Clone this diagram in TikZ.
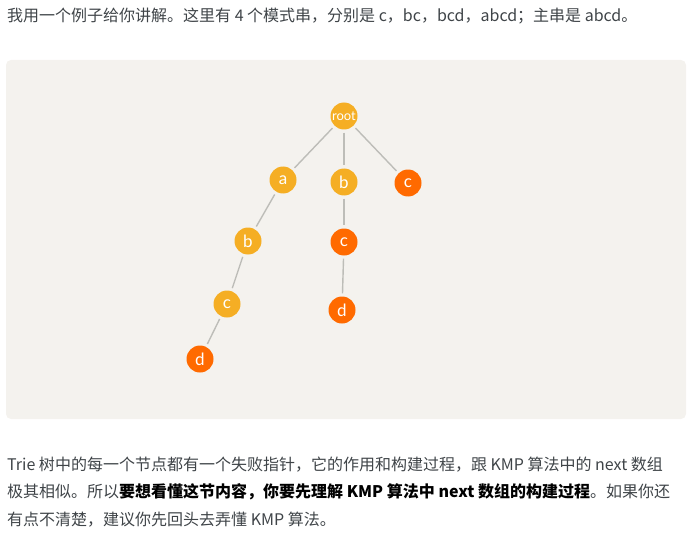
\documentclass[tikz,border=0pt]{standalone}
\usepackage{fontspec}
\setmainfont{Noto Sans CJK SC}
\newfontfamily\labelfont{Lato}
\definecolor{txt}{HTML}{3F4448}
\definecolor{panel}{HTML}{F4F2EE}
\definecolor{yel}{HTML}{F5AE24}
\definecolor{org}{HTML}{FF6A00}
\definecolor{edge}{HTML}{BDBDB8}
\tikzset{
  tnode/.style={circle,minimum size=27pt,inner sep=0pt,text=white,font=\labelfont\fontsize{17}{17}\selectfont},
  ynode/.style={tnode,fill=yel},
  onode/.style={tnode,fill=org},
  link/.style={draw=edge,line width=1.4pt,shorten >=3pt,shorten <=3pt},
  para/.style={anchor=west,inner sep=0pt,text=txt,font=\fontsize{16}{18}\selectfont}
}
\begin{document}
\begin{tikzpicture}[x=1pt,y=-1pt]
\useasboundingbox (0,0) rectangle (687,540);
\fill[panel,rounded corners=5pt] (6,60) rectangle (686,419);
\node[para] (t1) at (7,16) {我用一个例子给你讲解。这里有 4 个模式串，分别是 c，bc，bcd，abcd；主串是 abcd。};
\node[ynode,font=\labelfont\fontsize{13}{13}\selectfont] (root) at (344,116) {root};
\node[ynode] (a) at (283,180) {a};
\node[ynode] (b1) at (344,182) {b};
\node[onode] (c1) at (408,183) {c};
\node[ynode] (b2) at (248,241) {b};
\node[ynode] (c2) at (227,304) {c};
\node[onode] (d2) at (200,359) {d};
\node[onode] (c3) at (344,242) {c};
\node[onode] (d3) at (342,310) {d};
\draw[link] (root) -- (a);
\draw[link] (root) -- (b1);
\draw[link] (root) -- (c1);
\draw[link] (a) -- (b2);
\draw[link] (b2) -- (c2);
\draw[link] (c2) -- (d2);
\draw[link] (b1) -- (c3);
\draw[link] (c3) -- (d3);
\node[para] (l1) at (7,465) {Trie 树中的每一个节点都有一个失败指针，它的作用和构建过程，跟 KMP 算法中的 next 数组};
\node[para] (l2) at (7,492) {极其相似。所以{\bfseries\color{black}要想看懂这节内容，你要先理解 KMP 算法中 next 数组的构建过程}。如果你还};
\node[para] (l3) at (7,520) {有点不清楚，建议你先回头去弄懂 KMP 算法。};
\end{tikzpicture}
\end{document}
